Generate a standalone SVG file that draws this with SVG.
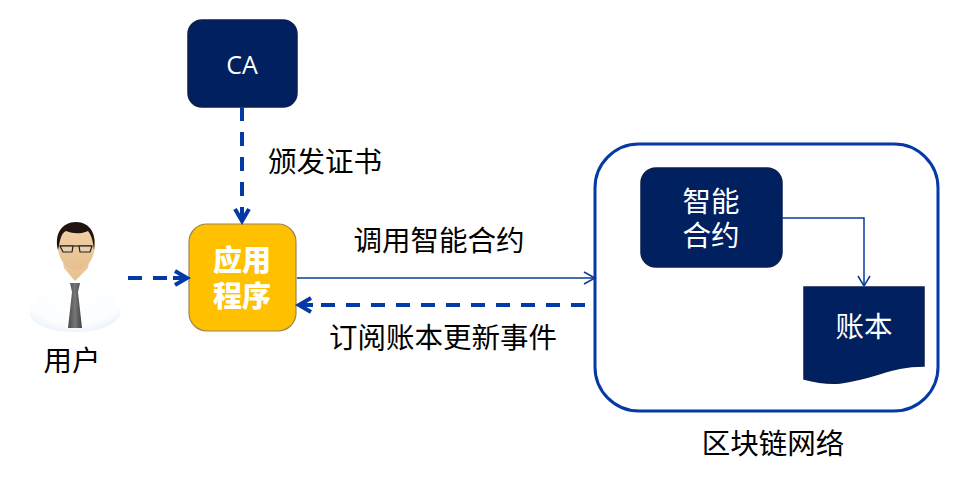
<svg xmlns="http://www.w3.org/2000/svg" width="963" height="477" viewBox="0 0 963 477">
<style>
text{font-family:"Noto Sans CJK SC","Open Sans",sans-serif;text-anchor:middle}
.l{font-size:28.5px;fill:#000}
.w{font-size:28.5px;fill:#fff}
.n{fill:#002060;stroke:#0a1f50;stroke-width:1.5}
.d{fill:none;stroke:#0539a5;stroke-width:4;stroke-dasharray:14 11}
.t{fill:none;stroke:#0a3a9a;stroke-width:1.5}
.h{fill:none;stroke:#0539a5;stroke-width:4}
</style>
<defs>
<radialGradient id="shirt" cx="0.5" cy="0.35" r="0.75"><stop offset="0" stop-color="#ffffff"/><stop offset="0.7" stop-color="#fbfdff"/><stop offset="1" stop-color="#e3eef8"/></radialGradient>
<linearGradient id="skin" x1="0" y1="0" x2="0" y2="1"><stop offset="0" stop-color="#f3d2a8"/><stop offset="1" stop-color="#e6bf8e"/></linearGradient>
<linearGradient id="tie" x1="0" y1="0" x2="1" y2="0"><stop offset="0" stop-color="#4a4a4a"/><stop offset="0.5" stop-color="#777"/><stop offset="1" stop-color="#3f3f3f"/></linearGradient>
</defs>
<g id="network"><rect x="595" y="144" width="343" height="267" rx="44" fill="#fff" stroke="#0539a5" stroke-width="3"/><text class="l" x="773" y="454">区块链网络</text></g>
<g id="ca"><rect class="n" x="188" y="20" width="109" height="87" rx="14"/><text x="242" y="74" style="font-family:'Open Sans',sans-serif;font-size:25px;fill:#fff">CA</text></g>
<g id="issue-label"><text class="l" x="325" y="172">颁发证书</text></g>
<g id="user">
<path d="M30 316C31 298 42 289 60 283L72 275L96 283C112 289 120 300 120 316C112 328 95 332 75 332C55 332 38 328 30 316Z" fill="url(#shirt)"/>
<path d="M61 250H91L88 268L75 281L64 268Z" fill="url(#skin)"/>
<path d="M57 240C57 228 65 224 76 224C87 224 95 230 95 243C95 262 84 270 76 270C67 270 57 260 57 240Z" fill="url(#skin)"/>
<path d="M58 250C54 234 62 222 76 222C90 222 97 234 94 250C93 242 92 236 88 231C80 235 70 233 66 231C60 234 60 242 58 250Z" fill="#1f1410"/>
<path d="M60 246H92" fill="none" stroke="#222" stroke-width="1.2"/>
<path d="M60 246H73L72 252H63ZM79 246H92L90 252H80Z" fill="#e8d2b4" fill-opacity="0.7" stroke="#222" stroke-width="1.2"/>
<path d="M70 283H80L78 292L82 328H68L72 292Z" fill="url(#tie)"/>
<text class="l" x="72" y="371">用户</text>
</g>
<g id="app"><rect x="189" y="224" width="107" height="107" rx="18" fill="#ffc000" stroke="#9a8550" stroke-width="1.2"/><text style="font-size:29px;font-weight:900;fill:#fff"><tspan x="242" y="271">应用</tspan><tspan x="242" y="307">程序</tspan></text></g>
<g id="invoke-label"><text class="l" x="439" y="251">调用智能合约</text></g>
<g id="subscribe-label"><text class="l" x="443" y="348">订阅账本更新事件</text></g>
<g id="contract"><rect class="n" x="641" y="168" width="141" height="99" rx="15"/><text class="w"><tspan x="711" y="212">智能</tspan><tspan x="711" y="246">合约</tspan></text></g>
<g id="ledger"><path class="n" d="M804 287H924V366C890 366 878 378 840 383C825 384 815 382 804 379Z"/><text class="w" x="864" y="337">账本</text></g>
<g id="connectors">
<path class="d" d="M242 107V200"/><path class="h" d="M235 209L242 221L249 209M242 207V220"/>
<path class="d" d="M128 278H170"/><path class="h" d="M175 271L187 278L175 285M173 278H186"/>
<path class="t" d="M297 278H594"/><path class="t" d="M584 272L595 278L584 284"/>
<path class="d" d="M585 305H316"/><path class="h" d="M311 298L299 305L311 312M300 305H313"/>
<path class="t" d="M782 218H864V286"/><path class="t" d="M858 276L864 286L870 276"/>
</g>
</svg>
